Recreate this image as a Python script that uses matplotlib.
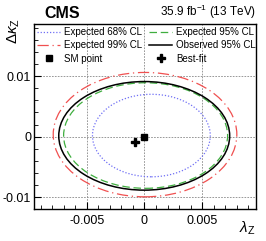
import matplotlib
matplotlib.use("Agg")
import matplotlib.pyplot as plt
from matplotlib.patches import Ellipse
from matplotlib.lines import Line2D
from matplotlib.ticker import MultipleLocator, FixedLocator

plt.rcParams['font.family'] = ['Liberation Sans', 'DejaVu Sans']
plt.rcParams['axes.unicode_minus'] = False
plt.rcParams['mathtext.fontset'] = 'custom'
plt.rcParams['mathtext.rm'] = 'Liberation Sans'
plt.rcParams['mathtext.it'] = 'Liberation Sans:italic'

# contour data: (lambda_center, kappa_center, lambda_width, kappa_height)
contour_labels = ["Expected 68% CL", "Expected 95% CL", "Expected 99% CL", "Observed 95% CL"]
contour_lam_center = [0.0006, 0.0001, 0.00005, -0.00002]
contour_kap_center = [0.0002, 0.0002, 0.00035, 0.00015]
contour_lam_width = [0.0102, 0.0142, 0.0159, 0.0148]
contour_kap_height = [0.0136, 0.0174, 0.0205, 0.0179]
contour_colors = ["#6f6ff5", "#3fae3f", "#f05050", "black"]
contour_styles = [(0, (1, 1.5)), (0, (6, 3)), (0, (9, 3, 1, 3)), "-"]
contour_lw = [0.9, 0.9, 0.9, 1.1]

sm_point = (0.0, 0.0)
best_fit = (-0.0008, -0.0008)

xticks = [-0.005, 0, 0.005]
xticklabels = ["-0.005", "0", "0.005"]
yticks = [-0.01, 0, 0.01]
yticklabels = ["-0.01", "0", "0.01"]

fig = plt.figure(figsize=(2.66, 2.41), dpi=100)
ax = fig.add_axes([0.128, 0.133, 0.834, 0.767])
ax.set_xlim(-0.00956, 0.00965)
ax.set_ylim(-0.0119, 0.01857)

handles = []
for lab, xc, yc, w, h, c, ls, lw in zip(contour_labels, contour_lam_center, contour_kap_center,
                                        contour_lam_width, contour_kap_height, contour_colors,
                                        contour_styles, contour_lw):
    e = Ellipse((xc, yc), w, h, fill=False, edgecolor=c, linestyle=ls, lw=lw, zorder=3)
    ax.add_patch(e)
    handles.append(Line2D([], [], color=c, linestyle=ls, lw=lw, label=lab))

ax.plot([sm_point[0]], [sm_point[1]], marker="s", color="black", ms=4, ls="none", zorder=5)
ax.plot([best_fit[0]], [best_fit[1]], marker="P", color="black", ms=5.5, ls="none", zorder=5)
h_sm = Line2D([], [], marker="s", color="black", ms=4, ls="none", label="SM point")
h_bf = Line2D([], [], marker="P", color="black", ms=5.5, ls="none", label="Best-fit")

# legend order row-wise: (68, 95), (99, obs), (SM, best)
ordered = [handles[0], handles[2], h_sm, handles[1], handles[3], h_bf]
leg = ax.legend(handles=ordered, ncol=2, loc="upper left", bbox_to_anchor=(-0.0, 1.0),
                frameon=False, fontsize=7, handlelength=2.4, handletextpad=0.4,
                columnspacing=0.7, labelspacing=0.35, borderaxespad=0.1, borderpad=0.2)

ax.xaxis.set_major_locator(FixedLocator(xticks))
ax.set_xticklabels(xticklabels)
ax.yaxis.set_major_locator(FixedLocator(yticks))
ax.set_yticklabels(yticklabels)
ax.xaxis.set_minor_locator(MultipleLocator(0.001))
ax.yaxis.set_minor_locator(MultipleLocator(0.002))
ax.tick_params(which="both", direction="in", top=False, right=False, labelsize=9)
ax.tick_params(which="major", length=5, width=0.8)
ax.tick_params(which="minor", length=3, width=0.6)
ax.tick_params(axis="x", pad=4)
ax.tick_params(axis="y", pad=2)
ax.grid(True, which="major", color="#888888", linestyle=(0, (2, 1.5)), lw=0.6)
for s in ax.spines.values():
    s.set_linewidth(1.0)

fig.text(0.96, 0.015, r"$\lambda_\mathrm{Z}$", ha="right", va="bottom", fontsize=11)
fig.text(0.05, 0.925, r"$\Delta\kappa_\mathrm{Z}$", ha="center", va="top", rotation=90, fontsize=11)
fig.text(0.165, 0.912, "CMS", ha="left", va="bottom", fontsize=11.5, fontweight="bold")
fig.text(0.962, 0.912, r"35.9 fb$^{-1}$ (13 TeV)", ha="right", va="bottom", fontsize=8.5)

fig.savefig("out.png", dpi=100)
